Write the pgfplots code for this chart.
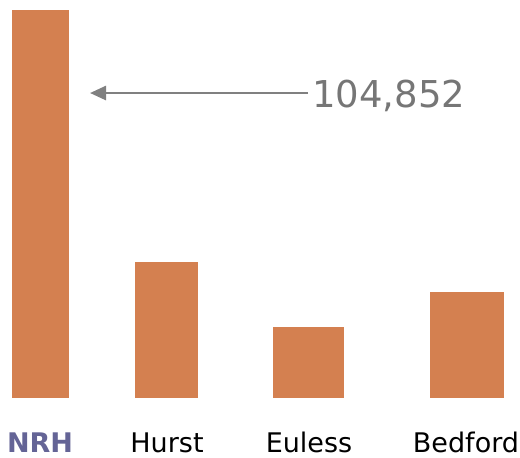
\documentclass[border=0pt]{standalone}
\usepackage{pgfplots}
\pgfplotsset{compat=1.18}
\usepackage{fontspec}
\setmainfont{DejaVu Sans}
\usetikzlibrary{arrows.meta}
\definecolor{barc}{RGB}{212,128,80}
\definecolor{nrhc}{RGB}{100,100,150}
\definecolor{annc}{RGB}{118,118,118}
\definecolor{arrc}{RGB}{128,128,128}
\begin{document}
\begin{tikzpicture}
\begin{axis}[
  scale only axis, width=520bp, height=457bp,
  xmin=0, xmax=520, ymin=-15943, ymax=107548,
  hide axis, clip=false,
]
\path (rel axis cs:0,0) rectangle (rel axis cs:1,1);
\addplot[ybar, bar shift=0pt, bar width=57, fill=barc, draw=none] coordinates {(40.5,104852)};
\addplot[ybar, bar shift=0pt, bar width=63, fill=barc, draw=none] coordinates {(166.5,36750)};
\addplot[ybar, bar shift=0pt, bar width=71, fill=barc, draw=none] coordinates {(308.5,19186)};
\addplot[ybar, bar shift=0pt, bar width=74, fill=barc, draw=none] coordinates {(467,28640)};
\node[anchor=base, font=\fontsize{27bp}{30bp}\selectfont\bfseries, text=nrhc, inner sep=0pt] at (axis cs:40,-14591) {NRH};
\node[anchor=base, font=\fontsize{27bp}{30bp}\selectfont, inner sep=0pt] at (axis cs:167,-14591) {Hurst};
\node[anchor=base, font=\fontsize{27bp}{30bp}\selectfont, inner sep=0pt] at (axis cs:309,-14591) {Euless};
\node[anchor=base, font=\fontsize{27bp}{30bp}\selectfont, inner sep=0pt] at (axis cs:466,-14591) {Bedford};
\draw[arrc, line width=2.6bp, -{Triangle[length=16bp, width=14bp]}] (axis cs:308,82411) -- (axis cs:90,82411);
\node[anchor=base west, font=\fontsize{37bp}{40bp}\selectfont, text=annc, inner sep=0pt] at (axis cs:312,78628) {104,852};
\end{axis}
\end{tikzpicture}
\end{document}
